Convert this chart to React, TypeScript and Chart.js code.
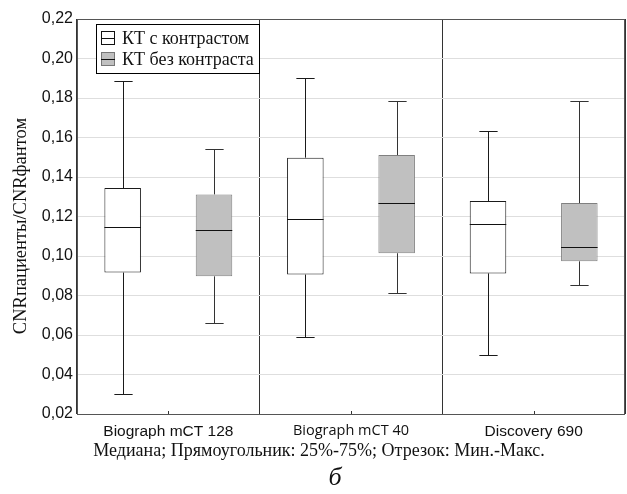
import React, { useEffect, useRef } from "react";
import { Chart, registerables } from "chart.js";

Chart.register(...registerables);

const categories = ["Biograph mCT 128", "Biograph mCT 40", "Discovery 690"];
const seriesNames = ["КТ с контрастом", "КТ без контраста"];

const withMin = [0.030, 0.059, 0.0497];
const withQ1 = [0.0916, 0.0906, 0.0912];
const withMed = [0.1145, 0.1186, 0.1162];
const withQ3 = [0.1344, 0.1498, 0.1278];
const withMax = [0.1886, 0.1903, 0.1633];

const noMin = [0.0662, 0.0811, 0.0853];
const noQ1 = [0.0897, 0.1014, 0.0973];
const noMed = [0.113, 0.127, 0.1044];
const noQ3 = [0.1312, 0.1511, 0.1268];
const noMax = [0.1543, 0.1783, 0.1786];

const yMin = 0.02;
const yMax = 0.22;
const yStep = 0.02;

const yTitle = "CNRпациенты/CNRфантом";
const caption = "Медиана; Прямоугольник: 25%-75%; Отрезок: Мин.-Макс.";
const panelLabel = "б";

const SERIF = "'Liberation Serif', 'Times New Roman', serif";
const SANS = "'Liberation Sans', Arial, sans-serif";

const stats = [
  { min: withMin, med: withMed, max: withMax },
  { min: noMin, med: noMed, max: noMax },
];

const boxPlugin = {
  id: "boxExtras",
  afterDatasetsDraw(chart: any) {
    const ctx = chart.ctx;
    const y = chart.scales.y;
    const area = chart.chartArea;
    ctx.save();
    stats.forEach((s, di) => {
      const meta = chart.getDatasetMeta(di);
      const stroke = di === 0 ? "#1a1a1a" : "#333333";
      meta.data.forEach((el: any, i: number) => {
        const x = Math.round(el.x) + 0.5;
        const w = el.width;
        const props = el.getProps(["y", "base"], true);
        const top = Math.min(props.y, props.base);
        const bot = Math.max(props.y, props.base);
        const pMax = Math.round(y.getPixelForValue(s.max[i])) + 0.5;
        const pMin = Math.round(y.getPixelForValue(s.min[i])) + 0.5;
        const pMed = Math.round(y.getPixelForValue(s.med[i])) + 0.5;
        ctx.strokeStyle = stroke;
        ctx.lineWidth = 1;
        ctx.beginPath();
        ctx.moveTo(x, top);
        ctx.lineTo(x, pMax);
        ctx.moveTo(x, bot);
        ctx.lineTo(x, pMin);
        const cap = w * 0.25;
        ctx.moveTo(x - cap, pMax);
        ctx.lineTo(x + cap, pMax);
        ctx.moveTo(x - cap, pMin);
        ctx.lineTo(x + cap, pMin);
        ctx.stroke();
        ctx.strokeStyle = "#111111";
        ctx.beginPath();
        ctx.moveTo(el.x - w / 2, pMed);
        ctx.lineTo(el.x + w / 2, pMed);
        ctx.stroke();
      });
    });
    // frame
    ctx.strokeStyle = "#555555";
    ctx.lineWidth = 1;
    ctx.strokeRect(
      Math.round(area.left) + 0.5,
      Math.round(area.top) + 0.5,
      Math.round(area.right - area.left) - 1,
      Math.round(area.bottom - area.top)
    );
    // small ticks at category centres
    const xs = chart.scales.x;
    ctx.strokeStyle = "#333333";
    ctx.beginPath();
    categories.forEach((_, i) => {
      const px = Math.round(xs.getPixelForTick(i)) + 0.5;
      ctx.moveTo(px, area.bottom - 3);
      ctx.lineTo(px, area.bottom);
    });
    ctx.stroke();
    ctx.restore();
  },
  afterDraw(chart: any) {
    const ctx = chart.ctx;
    ctx.save();
    // legend
    const lx = 96, ly = 24, lw = 164, lh = 50;
    ctx.fillStyle = "#ffffff";
    ctx.fillRect(lx, ly, lw, lh);
    ctx.strokeStyle = "#000000";
    ctx.lineWidth = 1;
    ctx.strokeRect(lx + 0.5, ly + 0.5, lw - 1, lh - 1);
    const fills = ["#ffffff", "#c0c0c0"];
    const borders = ["#111111", "#777777"];
    const rows = [38, 59];
    seriesNames.forEach((name, i) => {
      const cy = rows[i];
      ctx.fillStyle = fills[i];
      ctx.fillRect(101, cy - 7, 14, 14);
      ctx.strokeStyle = borders[i];
      ctx.strokeRect(101.5, cy - 6.5, 13, 13);
      ctx.strokeStyle = "#111111";
      ctx.beginPath();
      ctx.moveTo(101, cy + 0.5);
      ctx.lineTo(115, cy + 0.5);
      ctx.stroke();
      ctx.fillStyle = "#111111";
      ctx.font = `18px ${SERIF}`;
      ctx.textAlign = "left";
      ctx.textBaseline = "middle";
      ctx.fillText(name, 122, cy + 1);
    });
    // y title
    ctx.save();
    ctx.translate(21, 226);
    ctx.rotate(-Math.PI / 2);
    ctx.font = `18.5px ${SERIF}`;
    ctx.fillStyle = "#111111";
    ctx.textAlign = "center";
    ctx.textBaseline = "middle";
    ctx.fillText(yTitle, 0, 0);
    ctx.restore();
    // caption
    ctx.font = `18px ${SERIF}`;
    ctx.fillStyle = "#111111";
    ctx.textAlign = "center";
    ctx.textBaseline = "middle";
    ctx.fillText(caption, 319, 451);
    ctx.font = `italic 26px ${SERIF}`;
    ctx.fillText(panelLabel, 335, 478);
    ctx.restore();
  },
};

export default function App() {
  const ref = useRef<HTMLCanvasElement | null>(null);
  useEffect(() => {
    if (!ref.current) return;
    const chart = new Chart(ref.current, {
      type: "bar",
      data: {
        labels: categories,
        datasets: [
          {
            label: seriesNames[0],
            data: categories.map((_, i) => [withQ1[i], withQ3[i]]) as any,
            backgroundColor: "#ffffff",
            borderColor: "#1a1a1a",
            borderWidth: 1,
            borderSkipped: false,
            barPercentage: 0.4,
            categoryPercentage: 1,
          },
          {
            label: seriesNames[1],
            data: categories.map((_, i) => [noQ1[i], noQ3[i]]) as any,
            backgroundColor: "#c0c0c0",
            borderColor: "#808080",
            borderWidth: 1,
            borderSkipped: false,
            barPercentage: 0.4,
            categoryPercentage: 1,
          },
        ],
      },
      options: {
        animation: false,
        responsive: false,
        maintainAspectRatio: false,
        layout: { padding: { top: 19, right: 2, left: 0, bottom: 0 } },
        plugins: {
          legend: { display: false },
          tooltip: { enabled: false },
          title: { display: false },
        },
        scales: {
          x: {
            grid: {
              offset: true,
              color: "#333333",
              drawTicks: false,
              lineWidth: 1,
            },
            border: { display: false },
            ticks: {
              padding: 8,
              color: "#111111",
              font: (c: any) =>
                c.index === 1
                  ? { family: "'Open Sans', 'Noto Sans', sans-serif", size: 14.5 }
                  : { family: SANS, size: 15.5 },
            },
            afterFit: (s: any) => {
              s.height = 80;
            },
          },
          y: {
            min: yMin,
            max: yMax,
            grid: { color: "#dedede", drawTicks: false, lineWidth: 1 },
            border: { display: false },
            ticks: {
              stepSize: yStep,
              padding: 4,
              color: "#111111",
              font: { family: SANS, size: 16 },
              callback: (v: any) => Number(v).toFixed(2).replace(".", ","),
            },
            afterFit: (s: any) => {
              s.width = 77;
            },
          },
        },
      },
      plugins: [boxPlugin],
    });
    return () => chart.destroy();
  }, []);
  return (
    <div style={{ position: "fixed", left: 0, top: 0, width: 627, height: 494, background: "#fff" }}>
      <canvas ref={ref} width={627} height={494} style={{ width: 627, height: 494, display: "block" }} />
    </div>
  );
}
